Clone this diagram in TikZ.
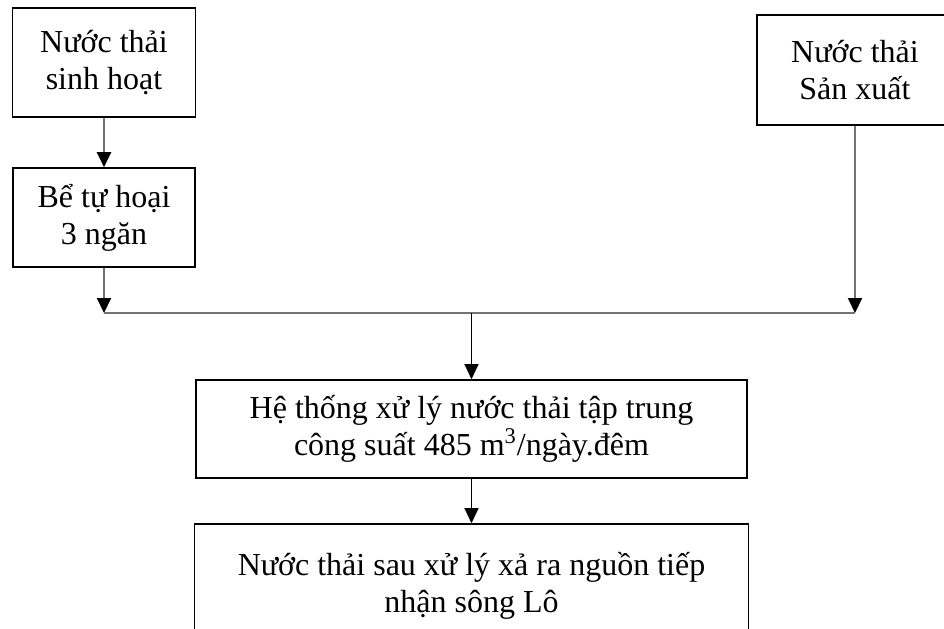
\documentclass[tikz,border=0pt]{standalone}
\usepackage{fontspec}
\setmainfont{Liberation Serif}
\usetikzlibrary{arrows.meta}

\tikzset{
  hop/.style={draw, line width=0.8pt, align=center, inner sep=0pt, font=\fontsize{16}{18.6}\selectfont},
  nhanh/.style={line width=1pt, black!55},
  muiten/.style={-{Triangle[width=7pt,length=7.5pt,color=black]}},
}

\begin{document}
\begin{tikzpicture}[x=0.5pt,y=-0.5pt]
\useasboundingbox (0,0) rectangle (944,628);
\clip (0,0) rectangle (944,628);
\node[hop, minimum width=91.5pt, minimum height=54.5pt] (sh) at (104,62.5) {Nước thải\\sinh hoạt};
\node[hop, minimum width=91pt, minimum height=49.5pt] (bt) at (104,217.5) {Bể tự hoại\\3 ngăn};
\node[hop, minimum width=98pt, minimum height=55pt] (sx) at (855,70) {Nước thải\\Sản xuất};
\node[hop, minimum width=275.5pt, minimum height=49pt] (ht) at (471.5,429) {Hệ thống xử lý nước thải tập trung\\công suất 485 m\textsuperscript{3}/ngày.đêm};
\node[hop, minimum width=277pt, minimum height=62pt] (xr) at (471.5,586) {Nước thải sau xử lý xả ra nguồn tiếp\\nhận sông Lô};
% duong gom chung
\coordinate (jl) at (104,313);
\coordinate (jr) at (855,313);
\coordinate (jm) at (ht.north |- jl);
\draw[nhanh, muiten] (sh) -- (bt);
\draw[nhanh, muiten] (bt) -- (jl);
\draw[nhanh, muiten] (sx) -- (jr);
\draw[nhanh] (jl) -- (jr);
\draw[line width=0.6pt, muiten] (jm) -- (ht);
\draw[line width=0.6pt, muiten] (ht) -- (xr);
\end{tikzpicture}
\end{document}
